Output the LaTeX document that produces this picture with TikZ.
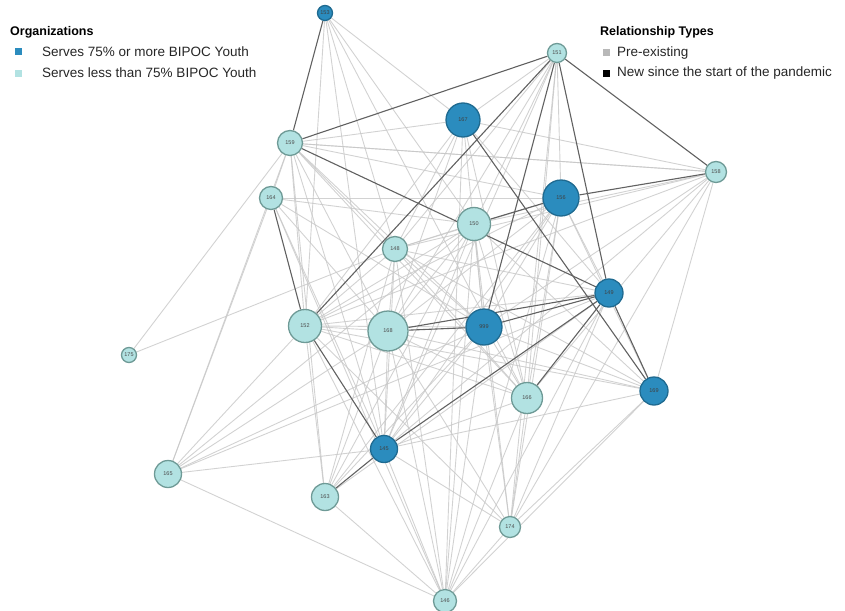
\documentclass[tikz,border=0pt]{standalone}
\usepackage{fontspec}
\setmainfont{Liberation Sans}
\usetikzlibrary{backgrounds}
\definecolor{darkorg}{HTML}{2B8CBE}
\definecolor{lightorg}{HTML}{B2E2E2}
\definecolor{darkrim}{HTML}{1F6A90}
\definecolor{lightrim}{HTML}{6E9A96}
\tikzset{
  orgD/.style={circle, inner sep=0pt, fill=darkorg, draw=darkrim, line width=1.3pt, font=\fontsize{5.5}{6}\selectfont, text=black!75},
  orgL/.style={circle, inner sep=0pt, fill=lightorg, draw=lightrim, line width=1.3pt, font=\fontsize{5.5}{6}\selectfont, text=black!70},
  pre/.style={draw=black!22, line width=0.9pt, opacity=0.8},
  newrel/.style={draw=black!62, line width=1.1pt},
  legtext/.style={anchor=west, font=\fontsize{13.5}{15}\selectfont, text=black!85, inner sep=0pt},
  legtitle/.style={anchor=west, font=\bfseries\fontsize{12.5}{14}\selectfont, inner sep=0pt},
  legsq/.style={minimum size=7pt, inner sep=0pt}
}
\begin{document}
\begin{tikzpicture}[x=1pt,y=-1pt]
\useasboundingbox (0,0) rectangle (845,610);
% nodes
\node[orgD, minimum size=15pt] (n153) at (325,13) {153};
\node[orgL, minimum size=19pt] (n151) at (557,53) {151};
\node[orgD, minimum size=34pt] (n167) at (463,120) {167};
\node[orgL, minimum size=25pt] (n159) at (290,143) {159};
\node[orgL, minimum size=21pt] (n158) at (716,172) {158};
\node[orgD, minimum size=36pt] (n156) at (561,198) {156};
\node[orgL, minimum size=23pt] (n164) at (271,198) {164};
\node[orgL, minimum size=33pt] (n150) at (474,224) {150};
\node[orgL, minimum size=25pt] (n148) at (395,249) {148};
\node[orgD, minimum size=28pt] (n149) at (609,293) {149};
\node[orgL, minimum size=33pt] (n152) at (305,326) {152};
\node[orgL, minimum size=40pt] (n168) at (388,331) {168};
\node[orgD, minimum size=36pt] (n999) at (484,327) {999};
\node[orgL, minimum size=15pt] (n175) at (129,355) {175};
\node[orgL, minimum size=31pt] (n166) at (527,398) {166};
\node[orgD, minimum size=28pt] (n169) at (654,391) {169};
\node[orgD, minimum size=27pt] (n145) at (384,449) {145};
\node[orgL, minimum size=27pt] (n165) at (168,474) {165};
\node[orgL, minimum size=27pt] (n163) at (325,497) {163};
\node[orgL, minimum size=21pt] (n174) at (510,527) {174};
\node[orgL, minimum size=23pt] (n146) at (445,601) {146};
% legend
\node[legtitle] (lt1) at (10,32) {Organizations};
\node[legsq, fill=darkorg] (ls1) at (18,52) {};
\node[legtext] (lx1) at (42,52) {Serves 75\% or more BIPOC Youth};
\node[legsq, fill=lightorg] (ls2) at (18,73) {};
\node[legtext] (lx2) at (42,73) {Serves less than 75\% BIPOC Youth};
\node[legtitle] (lt2) at (600,32) {Relationship Types};
\node[legsq, fill=black!28] (ls3) at (606,53) {};
\node[legtext] (lx3) at (617,53) {Pre-existing};
\node[legsq, fill=black] (ls4) at (606,73) {};
\node[legtext] (lx4) at (617,73) {New since the start of the pandemic};
\begin{pgfonlayer}{background}
% pre-existing relationships
\foreach \a/\b in {153/152,153/148,153/166,153/167,153/150,153/145,
  151/167,151/150,151/148,151/168,151/156,151/145,151/166,151/174,
  159/167,159/156,159/158,159/148,159/164,159/152,159/168,159/999,159/145,159/163,159/166,159/165,
  158/167,158/159,158/150,158/148,158/999,158/169,158/166,158/145,158/174,158/152,
  164/156,164/150,164/168,164/999,164/165,164/145,164/146,
  167/148,167/152,167/168,167/999,167/149,167/166,167/146,
  156/148,156/152,156/168,156/999,156/149,156/166,156/145,156/163,156/146,156/174,156/169,
  150/148,150/152,150/168,150/999,150/166,150/169,150/145,150/163,150/146,150/174,150/165,
  148/152,148/168,148/999,148/149,148/166,148/169,148/145,148/163,148/146,148/175,
  152/168,152/999,152/149,152/166,152/169,152/163,152/165,152/146,152/174,
  168/166,168/169,168/145,168/163,168/165,168/146,168/174,
  999/166,999/169,999/145,999/163,999/165,999/146,999/174,
  149/165,149/146,149/174,149/163,
  166/145,166/146,166/174,169/145,169/146,169/174,
  145/165,145/146,145/174,165/146,163/146,174/146,175/159}
  {\draw[pre] (n\a) -- (n\b);}
% new relationships
\foreach \a/\b in {153/159,159/151,159/149,151/158,151/152,151/999,151/149,
  167/169,150/156,156/158,164/152,152/145,168/999,999/149,168/149,
  166/149,149/169,145/149,163/145}
  {\draw[newrel] (n\a) -- (n\b);}
\end{pgfonlayer}
\end{tikzpicture}
\end{document}
